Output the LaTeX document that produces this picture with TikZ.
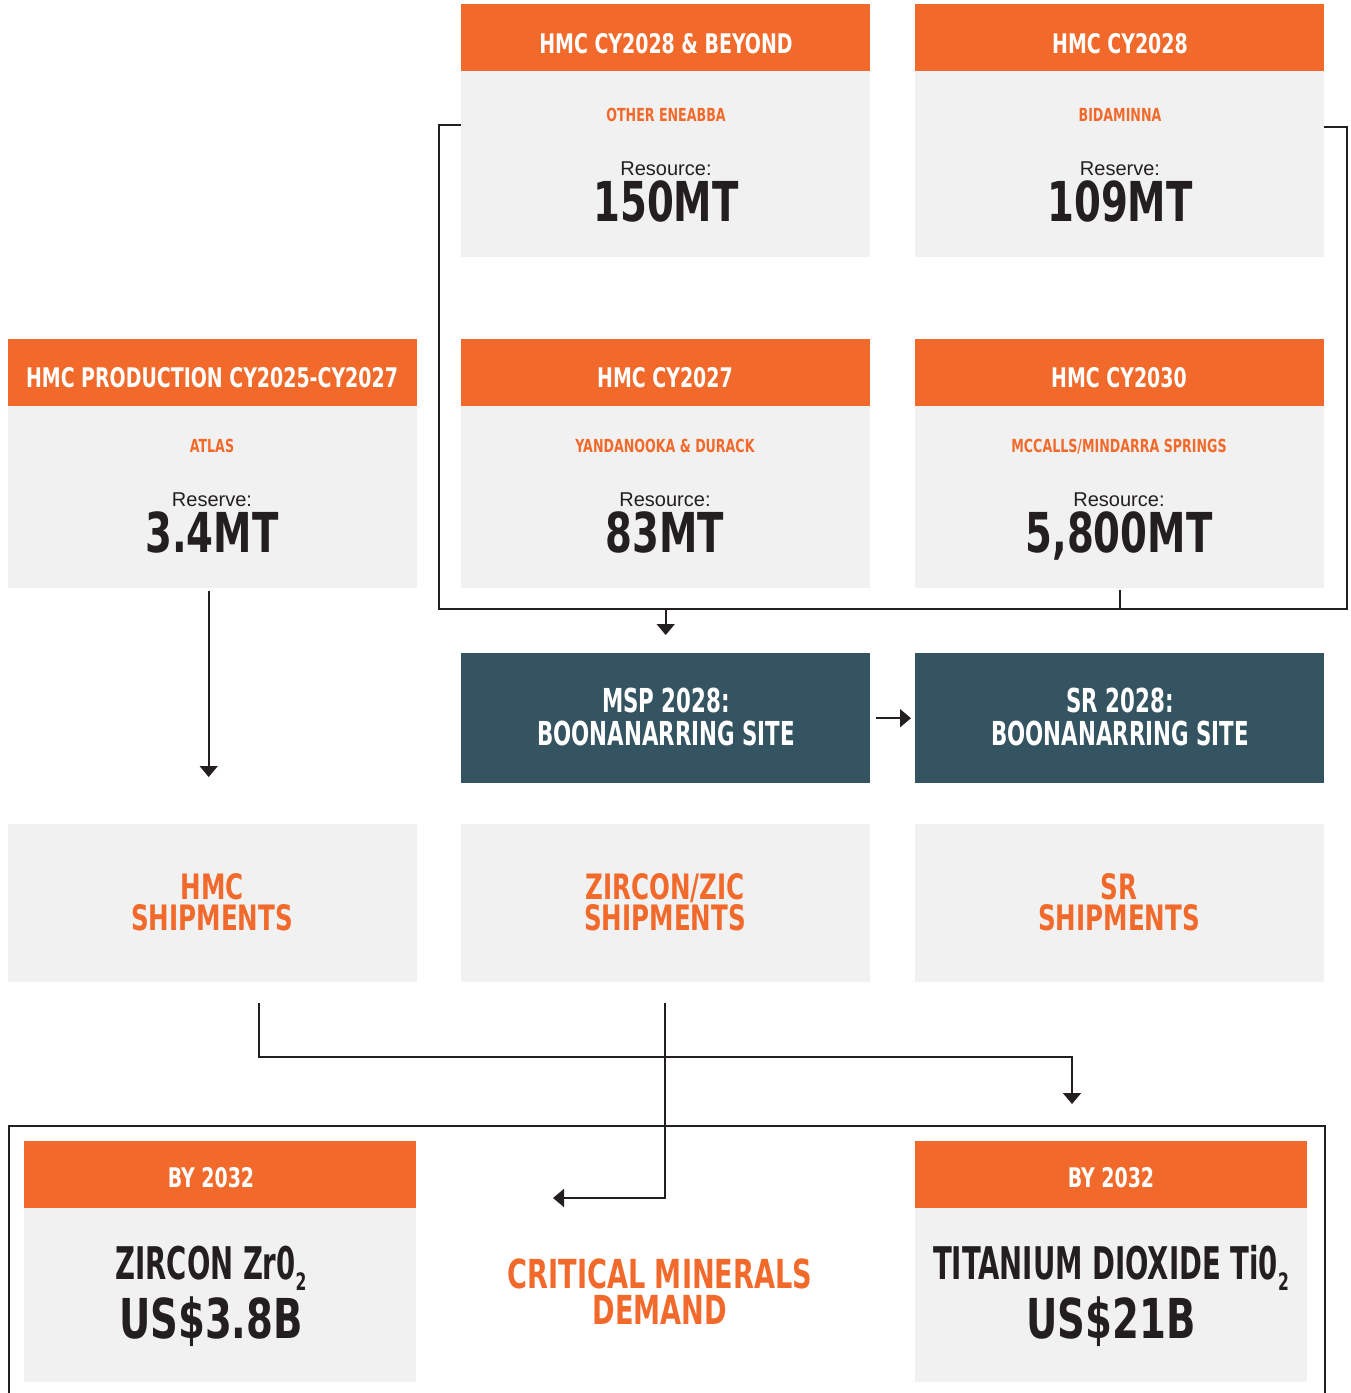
\documentclass[tikz,border=0pt]{standalone}
\usepackage{fontspec}
\setmainfont{Liberation Sans}
\newfontfamily\cond[FakeStretch=0.78]{DejaVu Sans Condensed Bold}
\newfontfamily\condc[FakeStretch=0.755]{DejaVu Sans Condensed Bold}
\newfontfamily\condn[FakeStretch=0.72]{DejaVu Sans Condensed Bold}
\newfontfamily\condm[FakeStretch=0.68]{DejaVu Sans Condensed Bold}
\usetikzlibrary{arrows.meta}
\definecolor{org}{HTML}{F26A2B}
\definecolor{lgray}{HTML}{F1F1F1}
\definecolor{teal}{HTML}{355462}
\definecolor{ink}{HTML}{231F20}
\newcommand\fhdr{\cond\fontsize{27}{27}\selectfont}
\newcommand\fsub{\cond\fontsize{18}{18}\selectfont}
\newcommand\fres{\fontsize{20}{20}\selectfont}
\newcommand\fnum{\cond\fontsize{55}{55}\selectfont}
\newcommand\fdark{\condn\fontsize{33}{33}\selectfont}
\newcommand\fship{\cond\fontsize{35}{31}\selectfont}
\newcommand\fcrit{\condc\fontsize{40}{36}\selectfont}
\newcommand\fmin{\condm\fontsize{45}{45}\selectfont}
\newcommand\fsubs{\condn\fontsize{24}{24}\selectfont}
\tikzset{
  hdr/.style={fill=org, inner sep=0, minimum width=409pt, minimum height=67pt, anchor=north west},
  bod/.style={fill=lgray, inner sep=0, minimum width=409pt, anchor=north west},
  dark/.style={fill=teal, inner sep=0, minimum width=409pt, minimum height=130pt, anchor=north west},
  txt/.style={inner sep=0, anchor=base},
  htxt/.style={txt, text=white, font=\fhdr},
  stxt/.style={txt, text=org, font=\fsub},
  rtxt/.style={txt, text=ink, font=\fres},
  ntxt/.style={txt, text=ink, font=\fnum},
  dtxt/.style={txt, text=white, font=\fdark, align=center},
  shtxt/.style={txt, text=org, font=\fship, align=center},
  crtxt/.style={txt, text=org, font=\fcrit, align=center},
  mtxt/.style={txt, text=ink, font=\fmin},
  conn/.style={draw=ink, line width=1.7pt},
  arr/.style={conn, -{Triangle[width=18pt,length=11pt]}},
}
\begin{document}
\begin{tikzpicture}[x=1pt,y=-1pt]
\useasboundingbox (0,0) rectangle (1351,1393);
% top row
\node[hdr] (Ah) at (461,4) {};
\node[bod, minimum height=186pt] (Ab) at (461,71) {};
\node[hdr] (Bh) at (915,4) {};
\node[bod, minimum height=186pt] (Bb) at (915,71) {};
% middle row
\node[hdr] (Ch) at (8,339) {};
\node[bod, minimum height=182pt] (Cb) at (8,406) {};
\node[hdr] (Dh) at (461,339) {};
\node[bod, minimum height=182pt] (Db) at (461,406) {};
\node[hdr] (Eh) at (915,339) {};
\node[bod, minimum height=182pt] (Eb) at (915,406) {};
% texts top
\node[htxt] (At) at (666,53) {HMC CY2028 \& BEYOND};
\node[stxt] (As) at (666,121) {OTHER ENEABBA};
\node[rtxt] (Ar) at (666,175) {Resource:};
\node[ntxt] (An) at (666,221) {150MT};
\node[htxt] (Bt) at (1120,53) {HMC CY2028};
\node[stxt] (Bs) at (1120,121) {BIDAMINNA};
\node[rtxt] (Br) at (1120,175) {Reserve:};
\node[ntxt] (Bn) at (1120,221) {109MT};
% texts middle
\node[htxt] (Ct) at (212,387) {HMC PRODUCTION CY2025-CY2027};
\node[stxt] (Cs) at (212,452) {ATLAS};
\node[rtxt] (Cr) at (212,506) {Reserve:};
\node[ntxt] (Cn) at (212,552) {3.4MT};
\node[htxt] (Dt) at (665,387) {HMC CY2027};
\node[stxt] (Ds) at (665,452) {YANDANOOKA \& DURACK};
\node[rtxt] (Dr) at (665,506) {Resource:};
\node[ntxt] (Dn) at (665,552) {83MT};
\node[htxt] (Et) at (1119,387) {HMC CY2030};
\node[stxt] (Es) at (1119,452) {MCCALLS/MINDARRA SPRINGS};
\node[rtxt] (Er) at (1119,506) {Resource:};
\node[ntxt] (En) at (1119,552) {5,800MT};
% dark boxes
\node[dark] (MSP) at (461,653) {};
\node[dark] (SR) at (915,653) {};
\node[dtxt] (M1) at (666,745) {MSP 2028:\\BOONANARRING SITE};
\node[dtxt] (S1) at (1120,745) {SR 2028:\\BOONANARRING SITE};
% shipments
\node[bod, minimum height=158pt] (HS) at (8,824) {};
\node[bod, minimum height=158pt] (ZS) at (461,824) {};
\node[bod, minimum height=158pt] (SS) at (915,824) {};
\node[shtxt] (H1) at (212,930) {HMC\\SHIPMENTS};
\node[shtxt] (Z1) at (665,930) {ZIRCON/ZIC\\SHIPMENTS};
\node[shtxt] (R1) at (1119,930) {SR\\SHIPMENTS};
% bottom frame
\draw[conn] (9,1393) -- (9,1126) -- (1325,1126) -- (1325,1393);
\node[hdr, minimum width=392pt] (Lh) at (24,1141) {};
\node[bod, minimum width=392pt, minimum height=174pt] (Lb) at (24,1208) {};
\node[hdr, minimum width=392pt] (Rh) at (915,1141) {};
\node[bod, minimum width=392pt, minimum height=174pt] (Rb) at (915,1208) {};
\node[htxt] (Lt) at (211,1187) {BY 2032};
\node[htxt] (Rt) at (1111,1187) {BY 2032};
\node[mtxt] (L1) at (211,1279) {ZIRCON Zr0\raisebox{-11pt}{\fsubs 2}};
\node[ntxt] (L2) at (211,1338) {US\$3.8B};
\node[mtxt] (R1m) at (1111,1279) {TITANIUM DIOXIDE Ti0\raisebox{-11pt}{\fsubs 2}};
\node[ntxt] (R2m) at (1111,1338) {US\$21B};
\node[crtxt] (K1) at (660,1324) {CRITICAL MINERALS\\DEMAND};
% connectors
\coordinate (bus) at (1347,609);
\draw[conn] ([yshift=-54pt]Ab.north west) -| (439,609) -- (bus) |- ([yshift=-56pt]Bb.north east);
\draw[conn] (Eb.south) ++(0,2) -- (Eb.south |- bus);
\draw[arr] (MSP.north |- bus) -- ([yshift=18pt]MSP.north);
\draw[arr] ([xshift=6pt]MSP.east) -- ([xshift=-4pt]SR.west);
\draw[arr, shorten <=3pt, shorten >=47pt] ([xshift=-4pt]Cb.south) -- ([xshift=-4pt]HS.north);
\coordinate (tipT) at (1072,1104);
\coordinate (tipC) at (553,1198);
\draw[arr] ([shift={(46,21)}]HS.south) |- (1072,1057) -- (tipT);
\draw[arr] ([shift={(-1,21)}]ZS.south) |- (tipC);
\end{tikzpicture}
\end{document}
